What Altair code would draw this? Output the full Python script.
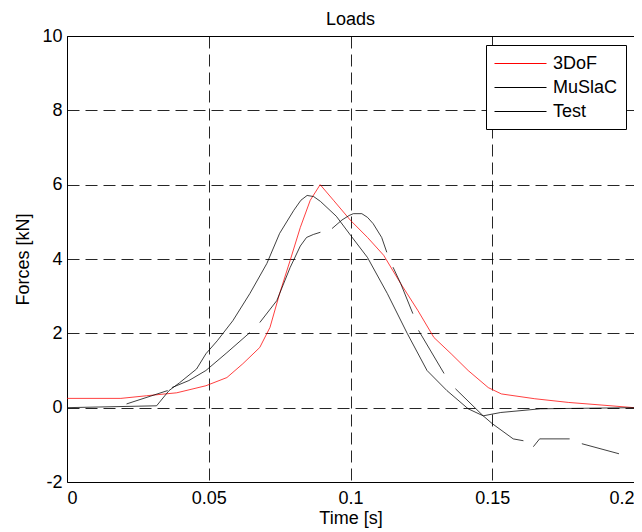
import altair as alt
import pandas as pd

# ---- data ----
dof_t = [0, 0.019, 0.028, 0.0387, 0.049, 0.0564, 0.062, 0.068, 0.0716, 0.075, 0.0787,
         0.0823, 0.0858, 0.0893, 0.094, 0.1, 0.106, 0.1117, 0.1177, 0.1238, 0.1294,
         0.1355, 0.1415, 0.1486, 0.1532, 0.165, 0.177, 0.1887, 0.2]
dof_v = [0.25, 0.25, 0.32, 0.40, 0.59, 0.81, 1.18, 1.62, 2.16, 3.07, 3.96,
         4.85, 5.58, 6.0, 5.58, 5.04, 4.58, 4.1, 3.34, 2.61, 1.89,
         1.45, 1.0, 0.54, 0.37, 0.24, 0.14, 0.07, 0.0]

mus_t = [0, 0.0316, 0.036, 0.0397, 0.0457, 0.049, 0.053, 0.0585, 0.0645, 0.0705, 0.075,
         0.080, 0.0825, 0.0847, 0.087, 0.0894, 0.095, 0.1, 0.106, 0.113, 0.120, 0.127,
         0.134, 0.1415, 0.1468, 0.153, 0.167, 0.2]
mus_v = [0, 0.05, 0.46, 0.67, 1.04, 1.45, 1.8, 2.34, 3.07, 3.88, 4.69,
         5.31, 5.58, 5.71, 5.68, 5.55, 5.15, 4.64, 4.04, 3.07, 2.0, 1.0,
         0.46, -0.03, -0.22, -0.13, -0.03, 0.0]

# Test measurement, recorded in separate segments (gaps in the trace)
test_t = [
    [0.021, 0.0355],
    [0.037, 0.043, 0.049, 0.0564, 0.0645],
    [0.068, 0.074, 0.0787, 0.0823, 0.0845, 0.0869, 0.0894],
    [0.0935, 0.097, 0.0995, 0.101, 0.104, 0.106, 0.108, 0.111, 0.1128],
    [0.115, 0.1177, 0.122],
    [0.124, 0.133],
    [0.137, 0.1468, 0.150, 0.1574, 0.161],
    [0.1645, 0.1667, 0.1773],
    [0.1816, 0.1947],
]
test_v = [
    [0.1, 0.46],
    [0.54, 0.73, 1.0, 1.48, 2.02],
    [2.29, 2.88, 3.77, 4.35, 4.58, 4.66, 4.72],
    [4.82, 5.05, 5.17, 5.22, 5.22, 5.12, 4.95, 4.58, 4.18],
    [3.78, 3.34, 2.53],
    [2.08, 0.92],
    [0.51, -0.22, -0.43, -0.84, -0.89],
    [-1.05, -0.84, -0.84],
    [-0.97, -1.24],
]

x_ticks = [0, 0.05, 0.1, 0.15, 0.2]
y_ticks = [-2, 0, 2, 4, 6, 8, 10]
series = ["3DoF", "MuSlaC", "Test"]
colors = ["#ff0000", "#000000", "#000000"]

rows = []
for t, v in zip(dof_t, dof_v):
    rows.append({"t": t, "v": v, "series": "3DoF", "seg": "d0"})
for t, v in zip(mus_t, mus_v):
    rows.append({"t": t, "v": v, "series": "MuSlaC", "seg": "m0"})
for i, (ts, vs) in enumerate(zip(test_t, test_v)):
    for t, v in zip(ts, vs):
        rows.append({"t": t, "v": v, "series": "Test", "seg": f"t{i}"})
df = pd.DataFrame(rows)

FONT = "Liberation Sans"

chart = alt.Chart(df).mark_line(strokeWidth=1, opacity=0.75).encode(
    x=alt.X("t:Q", scale=alt.Scale(domain=[0, 0.2], nice=False, zero=False),
            axis=alt.Axis(values=x_ticks, title="Time [s]", labelExpr="datum.value + ''",
                          labelPadding=7, titlePadding=2)),
    y=alt.Y("v:Q", scale=alt.Scale(domain=[-2, 10], nice=False),
            axis=alt.Axis(values=y_ticks, title="Forces [kN]", labelExpr="datum.value + ''",
                          labelPadding=5, titlePadding=9)),
    color=alt.Color("series:N", scale=alt.Scale(domain=series, range=colors),
                    legend=alt.Legend(title=None, orient="none", legendX=419, legendY=9,
                                      symbolType="M-1,0H4.2", symbolSize=400,
                                      symbolStrokeWidth=1, symbolOpacity=1,
                                      labelFontSize=18, labelFont=FONT, labelColor="black",
                                      labelOffset=38, padding=8, strokeColor="black",
                                      fillColor="white", rowPadding=4)),
    detail="seg:N",
    order=alt.Order("t:Q"),
).properties(
    width=567, height=446,
    title=alt.TitleParams("Loads", fontSize=18, font=FONT, fontWeight="normal",
                          color="black", offset=7, dy=9, frame="group"),
    autosize=alt.AutoSizeParams(type="none"),
    padding={"left": 59, "top": 28, "right": 0, "bottom": 46},
).configure_axis(
    domain=False, ticks=False, tickSize=0,
    grid=True, gridColor="#000000", gridDash=[12, 6], gridWidth=1, gridOpacity=0.85,
    labelFont=FONT, labelFontSize=18, labelColor="black",
    titleFont=FONT, titleFontSize=18, titleFontWeight="normal", titleColor="black",
).configure_view(stroke="black", strokeWidth=1)

chart.save("out.html", embed_options={"renderer": "svg", "actions": False})
